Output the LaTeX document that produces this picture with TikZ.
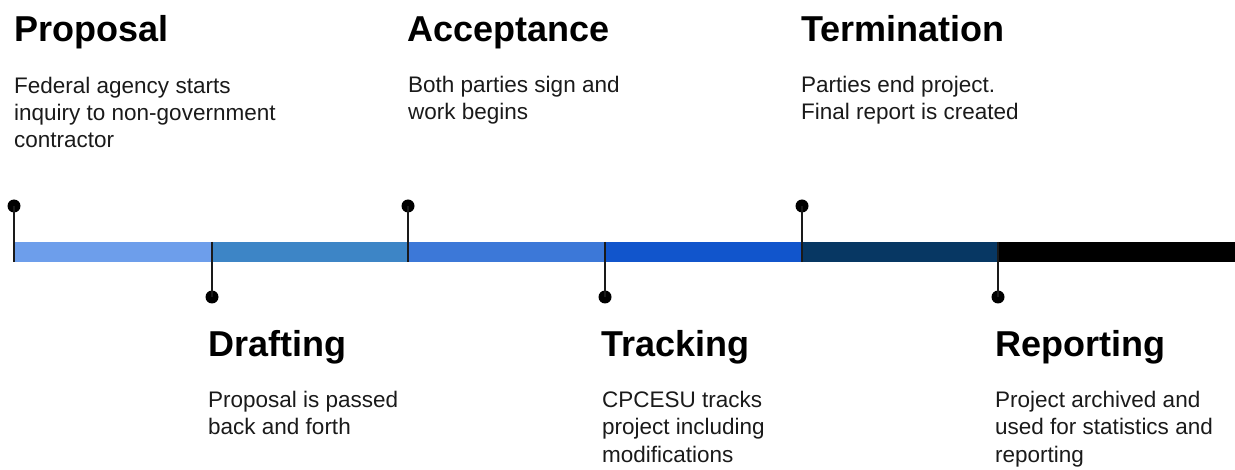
\documentclass[tikz,border=0pt]{standalone}
\usepackage{fontspec}
\setmainfont{Liberation Sans}
\usetikzlibrary{positioning}
\definecolor{segA}{HTML}{6D9EEB}
\definecolor{segB}{HTML}{3D85C6}
\definecolor{segC}{HTML}{3C78D8}
\definecolor{segD}{HTML}{1155CC}
\definecolor{segE}{HTML}{073763}
\definecolor{ink}{HTML}{1A1A1A}
\begin{document}
\begin{tikzpicture}[x=1pt, y=-1pt,
    title/.style={anchor=base west, inner sep=0pt, font=\fontsize{36}{40}\selectfont\bfseries},
    desc/.style={anchor=base west, inner sep=0pt, align=left, text=ink, font=\fontsize{22.5}{27.3}\selectfont},
    pin/.style={circle, fill=black, inner sep=0pt, minimum size=13pt},
    stem/.style={draw=ink, line width=1.5pt}
]
    \useasboundingbox (0,0) rectangle (1235,470);

    % timeline bar
    \fill[segA] (14,242) rectangle (212,262);
    \fill[segB] (212,242) rectangle (408,262);
    \fill[segC] (408,242) rectangle (605,262);
    \fill[segD] (605,242) rectangle (802,262);
    \fill[segE] (802,242) rectangle (998,262);
    \fill[black] (998,242) rectangle (1235,262);

    % pins above the bar
    \node[pin] (p1) at (14,206) {};
    \node[pin] (p3) at (408,206) {};
    \node[pin] (p5) at (802,206) {};
    \coordinate (b1) at (14,262);
    \coordinate (b3) at (408,262);
    \coordinate (b5) at (802,262);
    \draw[stem] (p1.center) -- (b1);
    \draw[stem] (p3.center) -- (b3);
    \draw[stem] (p5.center) -- (b5);

    % pins below the bar
    \node[pin] (p2) at (212,297) {};
    \node[pin] (p4) at (605,297) {};
    \node[pin] (p6) at (998,297) {};
    \coordinate (b2) at (212,242);
    \coordinate (b4) at (605,242);
    \coordinate (b6) at (998,242);
    \draw[stem] (b2) -- (p2.center);
    \draw[stem] (b4) -- (p4.center);
    \draw[stem] (b6) -- (p6.center);

    % stages (desc nodes sit on the baseline of their last line)
    \node[title] (proposal) at (14,42) {Proposal};
    \node[desc] (proposalText) at (14,148) {Federal agency starts\\inquiry to non-government\\contractor};

    \node[title] (drafting) at (208,357) {Drafting};
    \node[desc] (draftingText) at (208,435) {Proposal is passed\\back and forth};

    \node[title] (acceptance) at (407,42) {Acceptance};
    \node[desc] (acceptanceText) at (408,120) {Both parties sign and\\work begins};

    \node[title] (tracking) at (601,357) {Tracking};
    \node[desc] (trackingText) at (602,462) {CPCESU tracks\\project including\\modifications};

    \node[title] (termination) at (801,42) {Termination};
    \node[desc] (terminationText) at (801,120) {Parties end project.\\Final report is created};

    \node[title] (reporting) at (995,357) {Reporting};
    \node[desc] (reportingText) at (995,462) {Project archived and\\used for statistics and\\reporting};
\end{tikzpicture}
\end{document}
